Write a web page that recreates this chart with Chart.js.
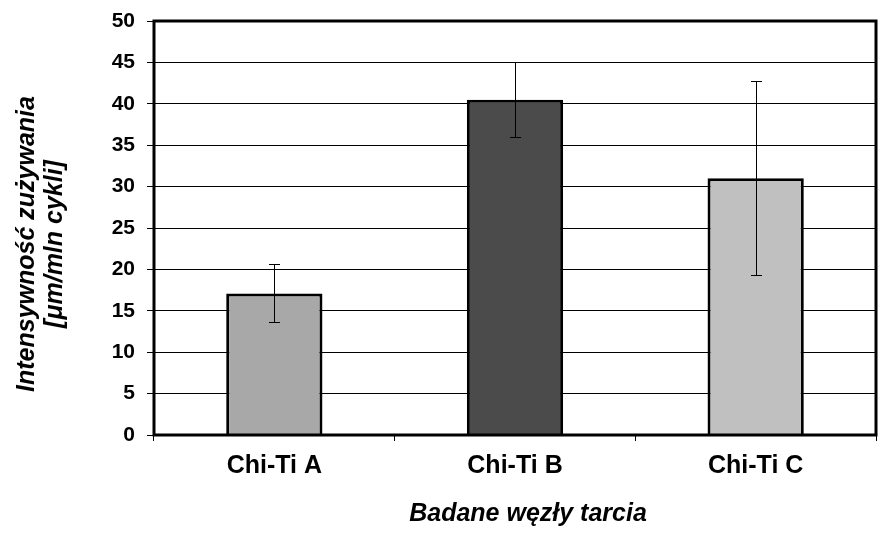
<!DOCTYPE html>
<html><head><meta charset="utf-8">
<script src="https://cdn.jsdelivr.net/npm/chart.js@4.4.1/dist/chart.umd.min.js"></script>
<style>html,body{margin:0;padding:0;background:#fff;}canvas{display:block;}</style>
</head><body>
<canvas id="c" width="892" height="537"></canvas>
<script>
// ---- data ----
const categories = ['Chi-Ti A', 'Chi-Ti B', 'Chi-Ti C'];
const values = [17.1, 40.5, 31.0];
const errLow = [13.7, 36.0, 19.3];
const errHigh = [20.6, 45.0, 42.7];
const barColors = ['#a8a8a8', '#4b4b4b', '#c0c0c0'];
const yMin = 0, yMax = 50, yStep = 5;
const yTitleLines = ['Intensywność zużywania', '[μm/mln cykli]'];
const xTitle = 'Badane węzły tarcia';

const FONT = '"Liberation Sans", Arial, sans-serif';

const errorBarPlugin = {
  id: 'errorBars',
  afterDatasetsDraw(chart) {
    const ctx = chart.ctx;
    const meta = chart.getDatasetMeta(0);
    const ys = chart.scales.y;
    ctx.save();
    ctx.strokeStyle = '#000';
    ctx.lineWidth = 1;
    meta.data.forEach((bar, i) => {
      const x = Math.round(bar.x) + 0.5;
      const yl = Math.round(ys.getPixelForValue(errLow[i])) + 0.5;
      const yh = Math.round(ys.getPixelForValue(errHigh[i])) + 0.5;
      const cap = 5.5;
      ctx.beginPath();
      ctx.moveTo(x, yl); ctx.lineTo(x, yh);
      ctx.moveTo(x - cap, yl); ctx.lineTo(x + cap, yl);
      ctx.moveTo(x - cap, yh); ctx.lineTo(x + cap, yh);
      ctx.stroke();
    });
    ctx.restore();
  }
};

const framePlugin = {
  id: 'frame',
  afterDraw(chart) {
    const a = chart.chartArea;
    const ctx = chart.ctx;
    ctx.save();
    ctx.strokeStyle = '#000';
    ctx.lineWidth = 3;
    ctx.strokeRect(a.left, a.top, a.right - a.left, a.bottom - a.top);
    ctx.restore();
  }
};

const titlesPlugin = {
  id: 'titles',
  afterDraw(chart) {
    const ctx = chart.ctx;
    const a = chart.chartArea;
    ctx.save();
    ctx.fillStyle = '#000';
    ctx.font = 'italic bold 25px ' + FONT;
    ctx.textAlign = 'center';
    ctx.textBaseline = 'alphabetic';
    // y-axis title, two rotated lines
    const cy = (a.top + a.bottom) / 2 + 16;
    const baselines = [34, 62];
    yTitleLines.forEach((t, i) => {
      ctx.save();
      ctx.translate(baselines[i], cy);
      ctx.rotate(-Math.PI / 2);
      ctx.fillText(t, 0, 0);
      ctx.restore();
    });
    // x-axis title
    ctx.fillText(xTitle, (a.left + a.right) / 2 + 13, 521);
    ctx.restore();
  }
};

Chart.defaults.color = '#000';
Chart.defaults.font.family = FONT;

new Chart(document.getElementById('c'), {
  type: 'bar',
  data: {
    labels: categories,
    datasets: [{
      data: values,
      backgroundColor: barColors,
      borderColor: '#000',
      borderWidth: 3,
      borderSkipped: 'start',
      barPercentage: 0.4,
      categoryPercentage: 1.0
    }]
  },
  options: {
    responsive: false,
    animation: false,
    devicePixelRatio: 1,
    layout: { padding: { top: 21, right: 16, left: 0, bottom: 0 } },
    plugins: { legend: { display: false }, tooltip: { enabled: false } },
    scales: {
      x: {
        afterFit(s) { s.height = 102; s.paddingLeft = 0; s.paddingRight = 0; },
        grid: { display: true, drawOnChartArea: false, drawTicks: true, tickLength: 6, color: '#000', lineWidth: 1, offset: true },
        border: { display: false },
        ticks: { font: { size: 25, weight: 'bold' }, padding: 10, color: '#000' }
      },
      y: {
        min: yMin, max: yMax,
        afterFit(s) { s.width = 154; s.paddingTop = 0; s.paddingBottom = 0; },
        grid: { color: '#000', lineWidth: 1, tickLength: 7, drawTicks: true },
        border: { display: false },
        ticks: { stepSize: yStep, font: { size: 21, weight: 'bold' }, padding: 12, color: '#000' }
      }
    }
  },
  plugins: [errorBarPlugin, framePlugin, titlesPlugin]
});
</script>
</body></html>
